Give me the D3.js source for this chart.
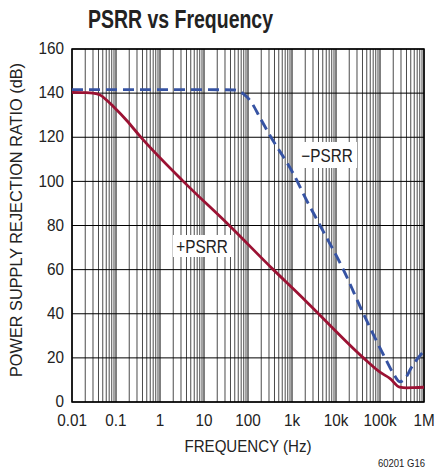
<!DOCTYPE html>
<html><head><meta charset="utf-8">
<script src="https://cdn.jsdelivr.net/npm/d3@7"></script>
<style>
body{margin:0;background:#fff;}
text{font-family:"Liberation Sans Narrow","Arial Narrow","Liberation Sans",sans-serif;}
</style></head>
<body><svg id="c" width="436" height="469"></svg>
<script>
const titleText = "PSRR vs Frequency";
const xTickValues = [0.01, 0.1, 1, 10, 100, 1e3, 1e4, 1e5, 1e6];
const xTickLabels = ["0.01", "0.1", "1", "10", "100", "1k", "10k", "100k", "1M"];
const yTickValues = [0, 20, 40, 60, 80, 100, 120, 140, 160];

const posFreq = [0.01, 0.02, 0.03, 0.044, 0.06, 0.087, 0.175, 0.35, 3.39, 37.6, 376, 1514, 4000, 42000, 100000, 170000, 280000, 400000, 600000, 1000000];
const posDb   = [140.3, 140.2, 140, 139.1, 137, 133.9, 127.6, 120.5, 100, 80, 60, 48.4, 40, 20, 13.5, 10.6, 6.7, 6.4, 6.5, 6.7];

const negFreq = [0.01, 1, 10, 50, 80, 112, 200, 316, 1070, 2150, 4350, 14700, 42000, 130000, 200000, 282000, 400000, 480000, 1000000];
const negDb   = [141.6, 141.6, 141.6, 141.4, 139.5, 136.6, 127.8, 120.8, 103.5, 91.4, 80, 60, 40, 20, 13, 9.2, 11.5, 14.5, 23.2];

const svg = d3.select("#c");
const L = 72, R = 424, T = 49, B = 402;
const x = d3.scaleLog().domain([0.01, 1e6]).range([L, R]);
const y = d3.scaleLinear().domain([0, 160]).range([B, T]);

// grid
const g = svg.append("g");
const minor = [];
for (let e = -2; e < 6; e++) for (let k = 2; k <= 9; k++) minor.push(k * Math.pow(10, e));
g.selectAll(".mv").data(minor).enter().append("line")
  .attr("x1", d => x(d)).attr("x2", d => x(d)).attr("y1", T).attr("y2", B)
  .attr("stroke", "#2a2a2a").attr("stroke-width", 0.85);
g.selectAll(".Mv").data(xTickValues).enter().append("line")
  .attr("x1", d => x(d)).attr("x2", d => x(d)).attr("y1", T).attr("y2", B)
  .attr("stroke", "#000").attr("stroke-width", 1);
g.selectAll(".h").data(yTickValues).enter().append("line")
  .attr("x1", L).attr("x2", R).attr("y1", d => y(d)).attr("y2", d => y(d))
  .attr("stroke", "#000").attr("stroke-width", 1);
svg.append("rect").attr("x", L).attr("y", T).attr("width", R - L).attr("height", B - T)
  .attr("fill", "none").attr("stroke", "#000").attr("stroke-width", 1.5);

// curves
const line = d3.line().x(d => x(d[0])).y(d => y(d[1])).curve(d3.curveMonotoneX);
svg.append("path").datum(posFreq.map((f, i) => [f, posDb[i]]))
  .attr("d", line).attr("fill", "none").attr("stroke", "#9b1233").attr("stroke-width", 2.8);
svg.append("path").datum(negFreq.map((f, i) => [f, negDb[i]]))
  .attr("d", line).attr("fill", "none").attr("stroke", "#3653a3").attr("stroke-width", 2.9)
  .attr("stroke-dasharray", "11,6");

// narrow text helper
function ntext(parent, txt, px, py, size, anchor, sx) {
  return parent.append("text")
    .attr("transform", `translate(${px},${py}) scale(${sx},1)`)
    .attr("text-anchor", anchor).attr("font-size", size).attr("fill", "#222").text(txt);
}
// labels with white background
function label(txt, cx, cy, w, h) {
  svg.append("rect").attr("x", cx - w / 2).attr("y", cy - h / 2).attr("width", w).attr("height", h).attr("fill", "#fff");
  ntext(svg, txt, cx, cy + 6.5, 18, "middle", 0.85);
}
label("+PSRR", 202, 246, 58, 22);
label("\u2212PSRR", 327, 155, 60, 26);

// axes text
yTickValues.forEach(v => ntext(svg, String(v), 64, y(v) + 5.2, 17, "end", 0.9));
xTickValues.forEach((v, i) => ntext(svg, xTickLabels[i], x(v), 426, 17, "middle", 0.9));

svg.append("text").attr("x", 248).attr("y", 452).attr("text-anchor", "middle")
  .attr("font-size", 17).attr("fill", "#222")
  .attr("textLength", 127).attr("lengthAdjust", "spacingAndGlyphs").text("FREQUENCY (Hz)");
svg.append("text").attr("transform", "translate(22,220) rotate(-90)").attr("text-anchor", "middle")
  .attr("font-size", 17).attr("fill", "#222")
  .attr("textLength", 314).attr("lengthAdjust", "spacingAndGlyphs").text("POWER SUPPLY REJECTION RATIO (dB)");
svg.append("text").attr("x", 425).attr("y", 467).attr("text-anchor", "end")
  .attr("font-size", 10).attr("fill", "#222")
  .attr("textLength", 47).attr("lengthAdjust", "spacingAndGlyphs").text("60201 G16");
svg.append("text").attr("x", 88).attr("y", 28).attr("font-size", 26).attr("font-weight", "bold")
  .attr("fill", "#222").attr("textLength", 185).attr("lengthAdjust", "spacingAndGlyphs").text(titleText);
</script></body></html>
